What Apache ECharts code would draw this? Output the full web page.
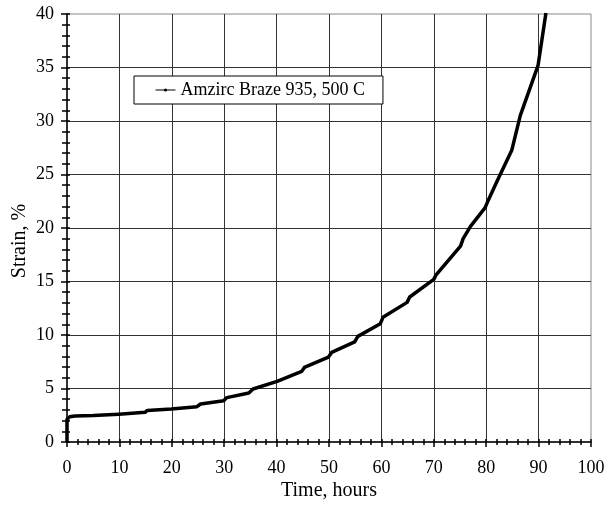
<!DOCTYPE html>
<html>
<head>
<meta charset="utf-8">
<script src="https://cdn.jsdelivr.net/npm/echarts@6/dist/echarts.min.js"></script>
<style>html,body{margin:0;padding:0;background:#fff}#c{width:613px;height:510px}</style>
</head>
<body>
<div id="c"></div>
<script>
var seriesName = 'Amzirc Braze 935, 500 C';
var timeHours = [0, 0, 0.5, 1.5, 5, 9.9, 10.2, 14.9, 15.3, 19.9, 20.2, 24.8, 25.5, 29.9, 30.5, 34.7, 35.5, 40.1, 44.8, 45.3, 49.9, 50.5, 54.9, 55.5, 59.8, 60.3, 64.9, 65.4, 70, 70.4, 75.1, 75.6, 77, 79.8, 80.4, 82, 84.9, 86.5, 89.9, 91.4];
var strainPct = [0, 2.1, 2.35, 2.42, 2.47, 2.6, 2.68, 2.77, 2.95, 3.08, 3.2, 3.3, 3.55, 3.86, 4.15, 4.58, 4.95, 5.66, 6.6, 6.97, 7.94, 8.37, 9.35, 9.87, 11.06, 11.65, 13.05, 13.55, 15.2, 15.6, 18.3, 19.0, 20.15, 21.9, 22.6, 24.3, 27.3, 30.5, 35.2, 40.1];
var xTicks = [0, 100, 10];
var yTicks = [0, 40, 5];

var font = "'Liberation Serif', 'Times New Roman', serif";
var data = timeHours.map(function (t, i) { return [t, strainPct[i]]; });
var gridColor = '#333';

var chart = echarts.init(document.getElementById('c'));
chart.setOption({
  animation: false,
  textStyle: { fontFamily: font },
  grid: { left: 67, right: 22, top: 14, bottom: 68, outerBoundsMode: 'none', containLabel: false, show: true, borderColor: '#888', borderWidth: 1, backgroundColor: 'transparent' },
  legend: {
    left: 134, top: 76,
    orient: 'horizontal',
    borderColor: '#000', borderWidth: 1,
    backgroundColor: '#fff',
    padding: [5, 18, 5, 21],
    itemWidth: 20, itemHeight: 4,
    lineStyle: { width: 1 },
    textStyle: { fontFamily: font, fontSize: 18, color: '#000', lineHeight: 18 },
    data: [seriesName]
  },
  xAxis: [{
    type: 'value', min: xTicks[0], max: xTicks[1], interval: xTicks[2],
    position: 'bottom',
    name: 'Time, hours', nameLocation: 'middle', nameGap: 39, nameMoveOverlap: false,
    nameTextStyle: { fontFamily: font, fontSize: 20, color: '#000' },
    axisLine: { show: true, lineStyle: { color: '#000', width: 1.5 } },
    axisTick: { show: true, inside: false, length: 5, lineStyle: { color: '#000', width: 1.5 } },
    minorTick: { show: true, splitNumber: 5, length: 3, lineStyle: { color: '#000', width: 1.5 } },
    axisLabel: { fontFamily: font, fontSize: 18, color: '#000', margin: 17 },
    splitLine: { show: true, showMinLine: false, showMaxLine: false, lineStyle: { color: gridColor, width: 1 } }
  }, {
    type: 'value', min: xTicks[0], max: xTicks[1], interval: xTicks[2],
    position: 'bottom',
    axisLine: { show: false },
    axisTick: { show: true, inside: true, length: 3, lineStyle: { color: '#000', width: 1.5 } },
    minorTick: { show: true, splitNumber: 5, length: 3, lineStyle: { color: '#000', width: 1.5 } },
    axisLabel: { show: false },
    splitLine: { show: false }
  }],
  yAxis: [{
    type: 'value', min: yTicks[0], max: yTicks[1], interval: yTicks[2],
    position: 'left',
    name: 'Strain, %', nameLocation: 'middle', nameGap: 37, nameMoveOverlap: false,
    nameTextStyle: { fontFamily: font, fontSize: 20, color: '#000', padding: [0, 26, 0, 0] },
    axisLine: { show: true, lineStyle: { color: '#000', width: 1.5 } },
    axisTick: { show: true, inside: false, length: 6, lineStyle: { color: '#000', width: 1.5 } },
    minorTick: { show: true, splitNumber: 5, length: 5, lineStyle: { color: '#000', width: 1.5 } },
    axisLabel: { fontFamily: font, fontSize: 18, color: '#000', margin: 13 },
    splitLine: { show: true, showMinLine: false, showMaxLine: false, lineStyle: { color: gridColor, width: 1 } }
  }, {
    type: 'value', min: yTicks[0], max: yTicks[1], interval: yTicks[2],
    position: 'left',
    axisLine: { show: false },
    axisTick: { show: true, inside: true, length: 3, lineStyle: { color: '#000', width: 1.5 } },
    minorTick: { show: true, splitNumber: 5, length: 3, lineStyle: { color: '#000', width: 1.5 } },
    axisLabel: { show: false },
    splitLine: { show: false }
  }],
  series: [{
    name: seriesName,
    type: 'line',
    xAxisIndex: 0, yAxisIndex: 0,
    data: data,
    symbol: 'circle',
    showSymbol: false,
    lineStyle: { color: '#000', width: 3.5, join: 'round' },
    itemStyle: { color: '#000' },
    z: 5
  }]
});
</script>
</body>
</html>
